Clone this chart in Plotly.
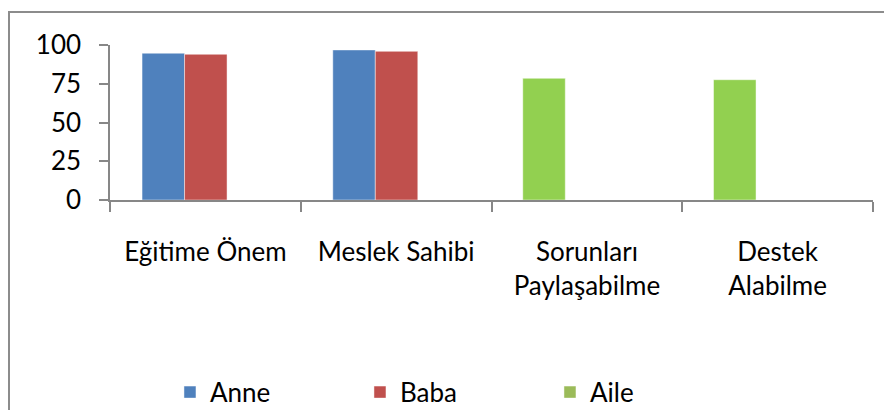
import plotly.graph_objects as go

categories = ["Eğitime Önem", "Meslek Sahibi", "Sorunları<br>Paylaşabilme", "Destek<br>Alabilme"]
anne = [94.7, 96.8, None, None]
baba = [94.0, 95.9, None, None]
aile = [None, None, 78.5, 77.6]
y_ticks = [0, 25, 50, 75, 100]

FONT = "Lato, Open Sans, sans-serif"
W = 0.2228
AXIS = "#878787"

fig = go.Figure()
fig.add_trace(go.Bar(name="Anne", x=categories, y=anne, width=W, offset=-0.332,
                     marker=dict(color="#4F81BD", line=dict(color="rgba(255,255,255,0.45)", width=1))))
fig.add_trace(go.Bar(name="Baba", x=categories, y=baba, width=W, offset=-0.332 + W,
                     marker=dict(color="#C0504D", line=dict(color="rgba(255,255,255,0.45)", width=1))))
fig.add_trace(go.Bar(name="Aile", x=categories, y=aile, width=W, offset=-0.336,
                     marker=dict(color=["#9BBB59", "#9BBB59", "#92D050", "#92D050"],
                                 line=dict(color="rgba(255,255,255,0.45)", width=1))))

fig.update_layout(
    width=884, height=402,
    margin=dict(l=102, r=19, t=37, b=210, autoexpand=False),
    paper_bgcolor="white", plot_bgcolor="white",
    barmode="overlay",
    font=dict(family=FONT, size=26, color="black"),
    showlegend=True,
    legend=dict(orientation="h", x=0.0786, xanchor="left", y=-1.24, yanchor="middle",
                entrywidth=145, entrywidthmode="pixels",
                font=dict(family=FONT, size=26, color="black"), bgcolor="rgba(0,0,0,0)"),
    xaxis=dict(type="category", showline=True, linecolor=AXIS, linewidth=1.5,
               ticks="outside", tickson="boundaries", ticklen=10, tickcolor=AXIS, tickwidth=1.5,
               ticklabelstandoff=28, showgrid=False, zeroline=False, automargin=False,
               tickfont=dict(family=FONT, size=26, color="black"), range=[-0.5, 3.5]),
    yaxis=dict(range=[0, 100], tickvals=y_ticks, showline=True, linecolor=AXIS, linewidth=1.5,
               ticks="outside", ticklen=9, tickcolor=AXIS, tickwidth=1.5,
               ticklabelstandoff=13, showgrid=False, zeroline=False, automargin=False,
               tickfont=dict(family=FONT, size=26, color="black")),
    shapes=[dict(type="rect", xref="paper", yref="paper",
                 x0=(9 - 110) / 763, x1=(905 - 110) / 763,
                 y0=(200 - 425) / 155, y1=(200 - 12) / 155,
                 line=dict(color="#8C8C8C", width=2), fillcolor="rgba(0,0,0,0)", layer="below")],
)

fig.write_html("out.html")
